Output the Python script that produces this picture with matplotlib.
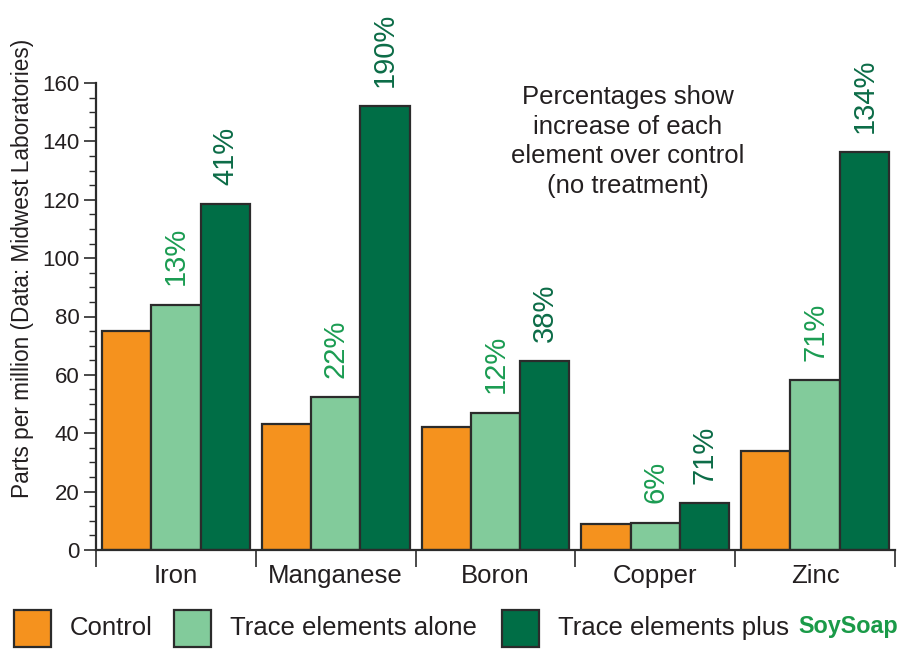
import numpy as np
import matplotlib.pyplot as plt
from matplotlib.patches import Rectangle
from matplotlib.ticker import MultipleLocator, FixedLocator

plt.rcParams['font.family'] = ['Liberation Sans', 'DejaVu Sans']

elements = ["Iron", "Manganese", "Boron", "Copper", "Zinc"]
control = [75, 43, 42, 9, 34]
trace_alone = [84, 52.4, 47, 9.4, 58.2]
trace_soysoap = [118.5, 152, 64.7, 16, 136.3]
pct_alone = ["13%", "22%", "12%", "6%", "71%"]
pct_soysoap = ["41%", "190%", "38%", "71%", "134%"]

ORANGE = "#f5921e"
LIGHT = "#82cb9b"
DARK = "#006e46"
EDGE = "#2b2b2b"
TEXT = "#231f20"
LBL_LIGHT = "#1b9c52"
LBL_DARK = "#0c6c47"
SOY = "#1a9a48"

fig = plt.figure(figsize=(9.11, 6.5), dpi=100)
ax = fig.add_axes([96 / 911, 100 / 650, 799 / 911, 467 / 650])

x = np.arange(len(elements)) + 0.5
w = 0.308
series = [(control, ORANGE), (trace_alone, LIGHT), (trace_soysoap, DARK)]
for k, (vals, col) in enumerate(series):
    ax.bar(x + (k - 1) * w, vals, width=w, color=col, edgecolor=EDGE, linewidth=1.6, zorder=2)

# percentage increase labels above the treated bars
for i in range(len(elements)):
    ax.annotate(pct_alone[i], (x[i], trace_alone[i]), xytext=(0, 14), textcoords="offset points",
                rotation=90, ha="center", va="bottom", fontsize=21, color=LBL_LIGHT)
    ax.annotate(pct_soysoap[i], (x[i] + w, trace_soysoap[i]), xytext=(0, 14), textcoords="offset points",
                rotation=90, ha="center", va="bottom", fontsize=21, color=LBL_DARK,
                annotation_clip=False)

ax.set_xlim(0, 5)
ax.set_ylim(0, 160)
for s in ["top", "right"]:
    ax.spines[s].set_visible(False)
for s in ["left", "bottom"]:
    ax.spines[s].set_color(EDGE)
    ax.spines[s].set_linewidth(1.6)

ax.yaxis.set_major_locator(MultipleLocator(20))
ax.yaxis.set_minor_locator(MultipleLocator(5))
ax.tick_params(axis="y", which="major", length=9, width=1.2, color=EDGE, labelsize=16,
               labelcolor=TEXT, pad=3)
ax.tick_params(axis="y", which="minor", length=5, width=1.0, color=EDGE)

ax.xaxis.set_major_locator(FixedLocator(x))
ax.set_xticklabels(elements)
ax.xaxis.set_minor_locator(FixedLocator(np.arange(len(elements) + 1)))
ax.tick_params(axis="x", which="major", length=0, labelsize=18.5, labelcolor=TEXT, pad=10)
ax.tick_params(axis="x", which="minor", length=12, width=1.2, color=EDGE)

ax.set_ylabel("Parts per million (Data: Midwest Laboratories)", fontsize=16.3, color=TEXT)
ax.yaxis.set_label_coords(-0.077, 0.604)

ax.text((628 - 96) / 799 * 5, 140, "Percentages show\nincrease of each\nelement over control\n(no treatment)",
        ha="center", va="center", fontsize=18.5, color=TEXT, linespacing=1.3)

# legend drawn along the bottom edge
def legend_box(px, col):
    fig.patches.append(Rectangle((px / 911, 3 / 650), 37 / 911, 37 / 650, transform=fig.transFigure,
                                 facecolor=col, edgecolor=EDGE, linewidth=1.6))

legend_box(14, ORANGE)
legend_box(174, LIGHT)
legend_box(502, DARK)
ly = 22 / 650
fig.text(70 / 911, ly, "Control", fontsize=18.5, color=TEXT, va="center")
fig.text(230 / 911, ly, "Trace elements alone", fontsize=18.5, color=TEXT, va="center")
fig.text(558 / 911, ly, "Trace elements plus", fontsize=18.5, color=TEXT, va="center")
fig.text(798 / 911, ly + 2 / 650, "SoySoap", fontsize=16.8, fontweight="bold", color=SOY, va="center")

fig.savefig("out.png", dpi=100)
